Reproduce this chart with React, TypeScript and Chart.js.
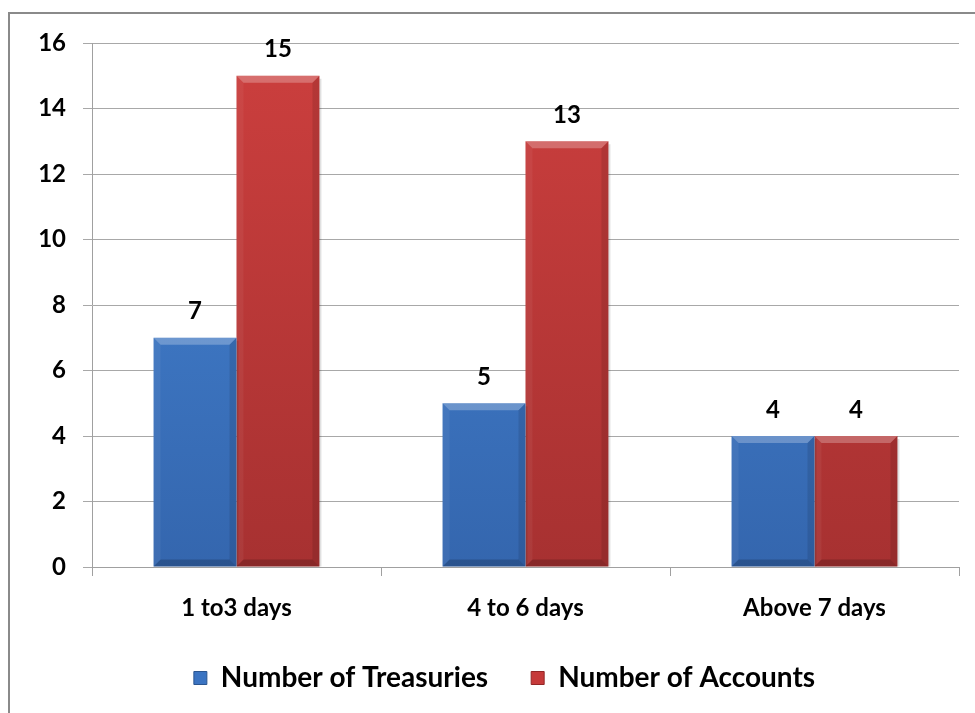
import React, { useEffect, useRef } from "react";
import { Chart, registerables } from "chart.js";

Chart.register(...registerables);

const categories = ["1 to3 days", "4 to 6 days", "Above 7 days"];
const treasuries = [7, 5, 4];
const accounts = [15, 13, 4];
const seriesNames = ["Number of Treasuries", "Number of Accounts"];
const yMin = 0;
const yMax = 16;
const yStep = 2;

const FONT = "Lato, 'Open Sans', sans-serif";
const BLUE_TOP = "#4686d6";
const BLUE_BOT = "#3466ae";
const RED_TOP = "#cc3f3e";
const RED_BOT = "#a73131";

function gradient(top: string, bot: string) {
  return (ctx: any) => {
    const chart = ctx.chart;
    const area = chart.chartArea;
    if (!area) return top;
    const g = chart.ctx.createLinearGradient(0, area.top, 0, area.bottom);
    g.addColorStop(0, top);
    g.addColorStop(1, bot);
    return g;
  };
}

const bevelPlugin = {
  id: "bevel",
  afterDatasetsDraw(chart: any) {
    const c = chart.ctx;
    chart.data.datasets.forEach((_: any, di: number) => {
      const meta = chart.getDatasetMeta(di);
      meta.data.forEach((bar: any) => {
        const { x, y, base, width } = bar.getProps(["x", "y", "base", "width"], true);
        const l = x - width / 2;
        const r = x + width / 2;
        const t = y;
        const b = base;
        const s = 7;
        const poly = (pts: number[][], fill: string) => {
          c.beginPath();
          c.moveTo(pts[0][0], pts[0][1]);
          for (let i = 1; i < pts.length; i++) c.lineTo(pts[i][0], pts[i][1]);
          c.closePath();
          c.fillStyle = fill;
          c.fill();
        };
        c.save();
        poly([[l, t], [r, t], [r - s, t + s], [l + s, t + s]], "rgba(255,255,255,0.25)");
        poly([[l, t], [l + s, t + s], [l + s, b - s], [l, b]], "rgba(255,255,255,0.05)");
        poly([[r, t], [r - s, t + s], [r - s, b - s], [r, b]], "rgba(0,0,0,0.10)");
        poly([[l, b], [l + s, b - s], [r - s, b - s], [r, b]], "rgba(0,0,0,0.18)");
        c.fillStyle = "rgba(0,0,0,0.12)";
        c.fillRect(r, t + 3, 2, b - t - 3);
        c.restore();
      });
    });
  },
};

const valueLabelPlugin = {
  id: "valueLabels",
  afterDatasetsDraw(chart: any) {
    const c = chart.ctx;
    c.save();
    c.font = `bold 24px ${FONT}`;
    c.fillStyle = "#000";
    c.textAlign = "center";
    c.textBaseline = "middle";
    chart.data.datasets.forEach((ds: any, di: number) => {
      const meta = chart.getDatasetMeta(di);
      meta.data.forEach((bar: any, i: number) => {
        c.fillText(String(ds.data[i]), bar.x, bar.y - 26);
      });
    });
    c.restore();
  },
};

// Centre the legend over the region from x=50 to the right edge of the plot
const legendShiftPlugin = {
  id: "legendShift",
  beforeDraw(chart: any) {
    const lg = chart.legend;
    if (!lg) return;
    lg.left = 50;
    lg.right = chart.chartArea.right;
  },
};

export default function App() {
  const ref = useRef<HTMLCanvasElement | null>(null);
  useEffect(() => {
    if (!ref.current) return;
    const chart = new Chart(ref.current, {
      type: "bar",
      data: {
        labels: categories,
        datasets: [
          {
            label: seriesNames[0],
            data: treasuries,
            backgroundColor: gradient(BLUE_TOP, BLUE_BOT),
            categoryPercentage: 0.574,
            barPercentage: 1,
          },
          {
            label: seriesNames[1],
            data: accounts,
            backgroundColor: gradient(RED_TOP, RED_BOT),
            categoryPercentage: 0.574,
            barPercentage: 1,
          },
        ],
      },
      options: {
        animation: false,
        responsive: false,
        maintainAspectRatio: false,
        layout: { padding: { left: 0, right: 16, top: 43, bottom: 11 } },
        plugins: {
          tooltip: { enabled: false },
          legend: {
            position: "bottom",
            labels: {
              font: { family: FONT, size: 28, weight: "bold" },
              color: "#000",
              boxWidth: 13,
              boxHeight: 13,
              padding: 43,
              generateLabels: () => [
                { text: seriesNames[0], fillStyle: "#3b74c2", strokeStyle: "#2a5590", lineWidth: 1, datasetIndex: 0 },
                { text: seriesNames[1], fillStyle: "#c63a3a", strokeStyle: "#922626", lineWidth: 1, datasetIndex: 1 },
              ],
            },
          },
        },
        scales: {
          x: {
            grid: {
              display: true,
              drawOnChartArea: false,
              drawTicks: true,
              tickLength: 9,
              color: "#a0a0a0",
              offset: true,
            },
            border: { display: true, color: "#a0a0a0" },
            ticks: {
              font: { family: FONT, size: 24, weight: "bold" },
              color: "#000",
              padding: 18,
              maxRotation: 0,
            },
            afterFit: (scale: any) => {
              scale.height = 54;
            },
          },
          y: {
            min: yMin,
            max: yMax,
            ticks: {
              stepSize: yStep,
              font: { family: FONT, size: 24, weight: "bold" },
              color: "#000",
              padding: 17,
            },
            grid: { color: "#a8a8a8", tickLength: 9 },
            border: { display: true, color: "#a0a0a0" },
            afterFit: (scale: any) => {
              scale.width = 92;
            },
          },
        },
      },
      plugins: [bevelPlugin, valueLabelPlugin, legendShiftPlugin],
    });
    return () => chart.destroy();
  }, []);

  return (
    <div style={{ position: "fixed", left: 0, top: 0, width: 975, height: 713, overflow: "hidden", background: "#fff" }}>
      <canvas ref={ref} width={975} height={713} style={{ position: "absolute", left: 0, top: 0, width: 975, height: 713 }} />
      <div
        style={{
          position: "absolute",
          left: 8,
          top: 12,
          width: 2000,
          height: 2000,
          borderLeft: "2px solid #8a8a8a",
          borderTop: "2px solid #8a8a8a",
          pointerEvents: "none",
        }}
      />
    </div>
  );
}
